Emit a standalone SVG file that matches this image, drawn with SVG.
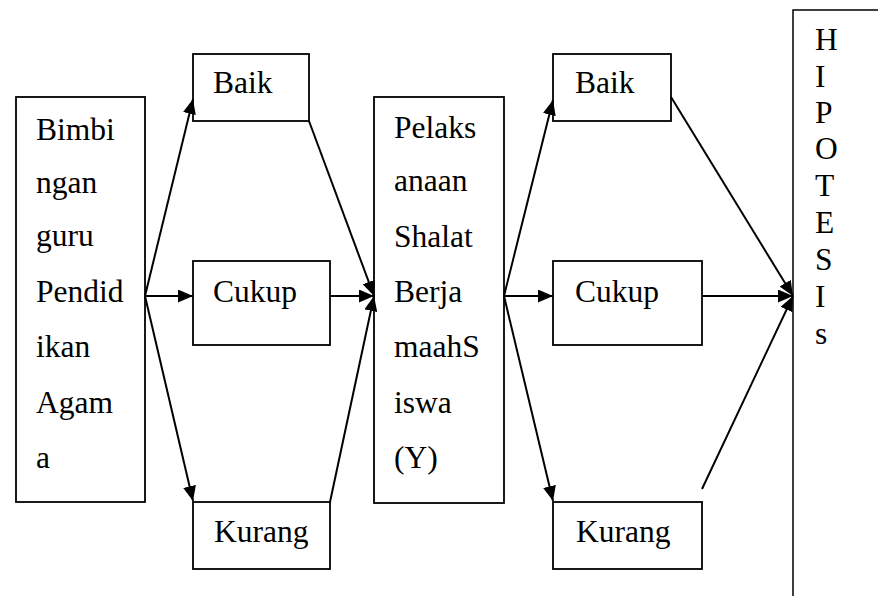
<svg xmlns="http://www.w3.org/2000/svg" width="878" height="596" viewBox="0 0 878 596">
<defs>
<marker id="ah" markerUnits="userSpaceOnUse" markerWidth="16" markerHeight="14" refX="15" refY="6.5" orient="auto">
<path d="M0,0 L15,6.5 L0,13 z" fill="#000"/>
</marker>
<style>
.box{fill:#fff;stroke:#000;stroke-width:1.8}
.t{font-size:31.5px;fill:#000}
.c{stroke:#000;stroke-width:2;fill:none}
.a{marker-end:url(#ah)}
</style>
</defs>
<rect width="878" height="596" fill="#fff"/>
<g font-family="'Liberation Serif', 'Times New Roman', 'DejaVu Serif', serif">
<g id="node-bimbingan">
<rect class="box" x="16" y="97" width="129" height="405"/>
<text class="t" x="36" y="140">Bimbi</text>
<text class="t" x="36" y="193">ngan</text>
<text class="t" x="36" y="246">guru</text>
<text class="t" x="36" y="302">Pendid</text>
<text class="t" x="36" y="357">ikan</text>
<text class="t" x="36" y="413">Agam</text>
<text class="t" x="36" y="468">a</text>
</g>
<g id="node-baik1">
<rect class="box" x="193" y="54" width="116" height="67"/>
<text class="t" x="213" y="93">Baik</text>
</g>
<g id="node-cukup1">
<rect class="box" x="193" y="261" width="137" height="84"/>
<text class="t" x="213" y="302">Cukup</text>
</g>
<g id="node-kurang1">
<rect class="box" x="193" y="502" width="137" height="67"/>
<text class="t" x="214" y="542">Kurang</text>
</g>
<g id="node-pelaksanaan">
<rect class="box" x="374" y="97" width="130" height="406"/>
<text class="t" x="394" y="138">Pelaks</text>
<text class="t" x="394" y="191">anaan</text>
<text class="t" x="394" y="247">Shalat</text>
<text class="t" x="394" y="302">Berja</text>
<text class="t" x="394" y="357">maahS</text>
<text class="t" x="394" y="413">iswa</text>
<text class="t" x="394" y="468">(Y)</text>
</g>
<g id="node-baik2">
<rect class="box" x="553" y="54" width="118" height="67"/>
<text class="t" x="575" y="93">Baik</text>
</g>
<g id="node-cukup2">
<rect class="box" x="553" y="261" width="149" height="84"/>
<text class="t" x="575" y="302">Cukup</text>
</g>
<g id="node-kurang2">
<rect class="box" x="553" y="502" width="149" height="67"/>
<text class="t" x="576" y="542">Kurang</text>
</g>
<g id="node-hipotesis">
<rect class="box" x="793" y="10" width="120" height="620" style="stroke-width:1.5"/>
<text class="t" x="815" y="50">H</text>
<text class="t" x="815" y="87">I</text>
<text class="t" x="815" y="123">P</text>
<text class="t" x="815" y="159">O</text>
<text class="t" x="815" y="196">T</text>
<text class="t" x="815" y="233">E</text>
<text class="t" x="815" y="270">S</text>
<text class="t" x="815" y="307">I</text>
<text class="t" x="815" y="344">s</text>
</g>
</g>
<g id="connectors">
<line class="c a" x1="145" y1="296" x2="193" y2="99"/>
<line class="c a" x1="145" y1="296" x2="193" y2="296"/>
<line class="c a" x1="145" y1="296" x2="193" y2="501"/>
<line class="c a" x1="309" y1="121" x2="374" y2="296"/>
<line class="c a" x1="330" y1="296" x2="374" y2="296"/>
<line class="c a" x1="330" y1="502" x2="374" y2="296"/>
<line class="c a" x1="504" y1="296" x2="553" y2="100"/>
<line class="c a" x1="504" y1="296" x2="553" y2="296"/>
<line class="c a" x1="504" y1="296" x2="553" y2="501"/>
<line class="c a" x1="671" y1="97" x2="793" y2="296"/>
<line class="c a" x1="702" y1="296" x2="793" y2="296"/>
<line class="c a" x1="702" y1="489" x2="793" y2="296"/>
</g>
</svg>
